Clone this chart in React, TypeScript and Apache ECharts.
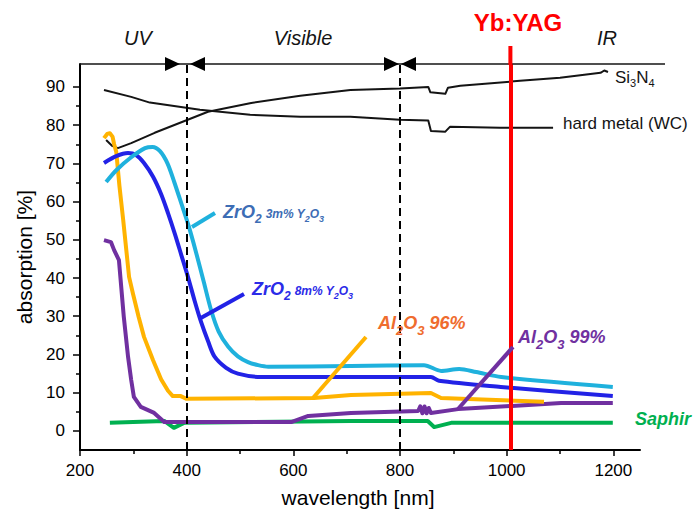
import React, { useEffect, useRef } from "react";
import * as echarts from "echarts";

const FONT = "'Liberation Sans', Arial, Helvetica, sans-serif";

// axis ticks / labels
const xLabelValues = [200, 400, 600, 800, 1000, 1200];
const xMinorValues = [300, 500, 700, 900, 1100];
const yLabelValues = [0, 10, 20, 30, 40, 50, 60, 70, 80, 90];
const yMinorValues = [5, 15, 25, 35, 45, 55, 65, 75, 85];

// region boundaries (UV | Visible | IR) and laser line
const regionBoundaries = [400, 800];
const ybYagWavelength = 1007;

// [wavelength nm, absorption %]
const si3n4: [number, number][] = [
  [249, 76.1], [260, 74.6], [271, 74.0], [296, 75.3], [340, 78.0], [402, 81.4], [440, 83.5],
  [521, 85.8], [613, 87.7], [707, 89.2], [800, 89.6], [853, 90.0], [857, 88.6], [885, 88.2],
  [890, 89.8], [913, 90.3], [1025, 91.6], [1100, 92.4], [1176, 93.7], [1183, 94.3], [1190, 93.9],
];
const hardMetal: [number, number][] = [
  [245, 89.2], [296, 87.4], [331, 85.9], [425, 84.0], [519, 82.7], [613, 82.2], [707, 82.2],
  [800, 81.4], [853, 81.2], [858, 78.5], [885, 78.3], [894, 79.6], [988, 79.3], [1087, 79.3],
];
const zrO2_3m: [number, number][] = [
  [249, 65.1], [268, 68.2], [296, 71.6], [322, 74.0], [336, 74.3], [350, 73.2], [364, 70.0],
  [377, 65.0], [390, 59.5], [404, 53.5], [418, 46.5], [432, 39.0], [446, 31.5], [460, 26.0],
  [478, 22.0], [496, 19.5], [515, 18.0], [534, 17.2], [553, 16.8], [708, 17.0], [845, 17.2],
  [877, 15.7], [911, 16.2], [943, 15.4], [990, 14.1], [1199, 11.5],
];
const zrO2_8m: [number, number][] = [
  [245, 70.1], [268, 71.9], [290, 72.7], [305, 72.2], [320, 70.1], [337, 66.5], [352, 62.0],
  [365, 57.0], [378, 51.5], [390, 46.0], [403, 40.0], [415, 34.0], [427, 28.5], [440, 23.5],
  [452, 19.5], [474, 16.5], [496, 15.0], [539, 14.1], [858, 14.1], [873, 13.1], [989, 11.5],
  [1199, 9.1],
];
const al2o3_96: [number, number][] = [
  [245, 76.6], [251, 77.7], [256, 77.9], [261, 77.0], [264, 75.0], [268, 73.0], [274, 64.0],
  [281, 55.2], [292, 40.3], [299, 36.1], [310, 29.8], [320, 24.6], [337, 18.5], [352, 13.5],
  [365, 10.5], [374, 9.1], [389, 9.1], [399, 8.4], [639, 8.6], [708, 9.4], [858, 9.9],
  [877, 8.6], [1070, 7.6],
];
const al2o3_99: [number, number][] = [
  [245, 49.9], [258, 49.4], [264, 47.3], [273, 44.7], [282, 30.0], [290, 19.5], [296, 13.3],
  [301, 8.9], [314, 6.3], [339, 4.7], [358, 2.3], [596, 2.3], [628, 3.9], [708, 4.7],
  [834, 5.2], [838, 6.4], [842, 4.6], [846, 6.4], [850, 4.6], [854, 6.0], [858, 4.7],
  [909, 5.7], [1102, 7.3], [1199, 7.3],
];
const saphir: [number, number][] = [
  [256, 2.1], [358, 2.6], [376, 0.8], [395, 2.1], [708, 2.6], [852, 2.6], [864, 1.0],
  [896, 2.1], [1199, 2.1],
];

type Seg = [string, number, number, number?];

function buildText(
  ctx: CanvasRenderingContext2D,
  x0: number,
  baseline: number,
  color: string,
  weight: string,
  fstyle: string,
  segs: Seg[]
) {
  const els: any[] = [];
  let x = x0;
  for (const [t, size, dy, gap] of segs) {
    x += gap || 0;
    const font = `${fstyle} ${weight} ${size}px ${FONT}`;
    ctx.font = font;
    const w = ctx.measureText(t).width;
    els.push({
      type: "text",
      x,
      y: baseline + dy - 0.35 * size,
      z: 100,
      silent: true,
      style: {
        text: t,
        fill: color,
        font,
        align: "left",
        verticalAlign: "middle",
      },
    });
    x += w;
  }
  return els;
}

function centerText(x: number, y: number, text: string, font: string, color: string, rotation = 0) {
  return {
    type: "text",
    x,
    y,
    rotation,
    z: 100,
    silent: true,
    style: { text, fill: color, font, align: "center", verticalAlign: "middle" },
  };
}

const colors = {
  black: "#141414",
  zr3: "#1fb1dd",
  zr8: "#2222e6",
  al96: "#ffb300",
  al99: "#7030a0",
  saphir: "#00b050",
  red: "#ff0000",
};

export default function App() {
  const ref = useRef<HTMLDivElement>(null);
  useEffect(() => {
    if (!ref.current) return;
    const chart = echarts.init(ref.current, undefined, { renderer: "svg" });

    const lineSeries = (name: string, data: [number, number][], color: string, width: number, smooth: any = false) => ({
      name,
      type: "line",
      data,
      symbol: "none",
      smooth,
      silent: true,
      lineStyle: { color, width, cap: "butt", join: "round" },
      z: 3,
    });

    const axisFont = { color: "#000", fontSize: 17, fontFamily: FONT };
    const plain = (v: number) => String(v);

    const option: any = {
      animation: false,
      backgroundColor: "#ffffff",
      grid: { left: 80, top: 64, width: 560, height: 386, containLabel: false },
      xAxis: [
        {
          type: "value",
          min: 200,
          max: 1250,
          position: "bottom",
          axisLine: { show: true, onZero: false, lineStyle: { color: "#000", width: 2 } },
          axisTick: { show: true, inside: false, length: 6, customValues: xLabelValues, lineStyle: { color: "#000", width: 1.5 } },
          axisLabel: { show: true, customValues: xLabelValues, margin: 12, formatter: plain, ...axisFont },
          splitLine: { show: false },
        },
        {
          type: "value",
          min: 200,
          max: 1250,
          position: "bottom",
          axisLine: { show: false, onZero: false },
          axisTick: { show: true, inside: false, length: 4, customValues: xMinorValues, lineStyle: { color: "#000", width: 1.5 } },
          axisLabel: { show: false },
          splitLine: { show: false },
        },
      ],
      yAxis: [
        {
          type: "value",
          min: -5,
          max: 96,
          position: "left",
          axisLine: { show: true, onZero: false, lineStyle: { color: "#000", width: 2 } },
          axisTick: { show: true, inside: false, length: 7, customValues: yLabelValues, lineStyle: { color: "#000", width: 1.5 } },
          axisLabel: { show: true, customValues: yLabelValues, margin: 15, formatter: plain, ...axisFont },
          splitLine: { show: false },
        },
        {
          type: "value",
          min: -5,
          max: 96,
          position: "left",
          axisLine: { show: false, onZero: false },
          axisTick: { show: true, inside: false, length: 4, customValues: yMinorValues, lineStyle: { color: "#000", width: 1.5 } },
          axisLabel: { show: false },
          splitLine: { show: false },
        },
      ],
      series: [
        lineSeries("Si3N4", si3n4, colors.black, 2),
        lineSeries("hard metal (WC)", hardMetal, colors.black, 2),
        lineSeries("Saphir", saphir, colors.saphir, 4),
        lineSeries("Al2O3 99%", al2o3_99, colors.al99, 4),
        lineSeries("Al2O3 96%", al2o3_96, colors.al96, 4),
        lineSeries("ZrO2 8m% Y2O3", zrO2_8m, colors.zr8, 4, 0.3),
        lineSeries("ZrO2 3m% Y2O3", zrO2_3m, colors.zr3, 4, 0.3),
        {
          name: "markers",
          type: "line",
          data: [[ybYagWavelength, 0]],
          symbol: "none",
          silent: true,
          z: 10,
          lineStyle: { width: 0 },
          markLine: {
            silent: true,
            symbol: ["none", "none"],
            label: { show: false },
            animation: false,
            data: [
              ...regionBoundaries.map((v) => ({
                xAxis: v,
                lineStyle: { color: "#000", width: 2, type: [8, 5] },
              })),
              { xAxis: ybYagWavelength, lineStyle: { color: colors.red, width: 4, type: "solid" } },
            ],
          },
        },
      ],
    };

    chart.setOption(option);

    const ctx = document.createElement("canvas").getContext("2d")!;
    const redX = chart.convertToPixel({ xAxisIndex: 0 }, ybYagWavelength) as number;
    const topY = 64;

    const graphics: any[] = [
      { type: "line", z: 90, silent: true, shape: { x1: 80, y1: topY, x2: 665, y2: topY }, style: { stroke: colors.black, lineWidth: 1.5 } },
      { type: "polygon", z: 90, silent: true, shape: { points: [[165, 57], [180, 64], [165, 71]] }, style: { fill: "#000" } },
      { type: "polygon", z: 90, silent: true, shape: { points: [[205, 57], [190, 64], [205, 71]] }, style: { fill: "#000" } },
      { type: "polygon", z: 90, silent: true, shape: { points: [[384, 57], [399, 64], [384, 71]] }, style: { fill: "#000" } },
      { type: "polygon", z: 90, silent: true, shape: { points: [[416, 57], [401, 64], [416, 71]] }, style: { fill: "#000" } },
      { type: "line", z: 90, silent: true, shape: { x1: redX, y1: 46, x2: redX, y2: topY + 1 }, style: { stroke: colors.red, lineWidth: 4 } },
      { type: "line", z: 20, silent: true, shape: { x1: 192, y1: 227, x2: 215, y2: 213 }, style: { stroke: colors.zr3, lineWidth: 4 } },
      { type: "line", z: 20, silent: true, shape: { x1: 199, y1: 319, x2: 244, y2: 294 }, style: { stroke: colors.zr8, lineWidth: 4 } },
      { type: "line", z: 20, silent: true, shape: { x1: 313, y1: 398, x2: 366, y2: 337 }, style: { stroke: colors.al96, lineWidth: 4 } },
      { type: "line", z: 20, silent: true, shape: { x1: 458, y1: 409, x2: 513, y2: 347 }, style: { stroke: colors.al99, lineWidth: 4 } },
      centerText(138, 38, "UV", `italic normal 20px ${FONT}`, colors.black),
      centerText(303, 38, "Visible", `italic normal 20px ${FONT}`, colors.black),
      centerText(607, 38, "IR", `italic normal 20px ${FONT}`, colors.black),
      centerText(518, 22, "Yb:YAG", `normal bold 24px ${FONT}`, colors.red),
      centerText(24, 257, "absorption [%]", `normal normal 21px ${FONT}`, "#000", Math.PI / 2),
      centerText(358, 497, "wavelength [nm]", `normal normal 21px ${FONT}`, "#000"),
      ...buildText(ctx, 223, 218, "#3d6db5", "bold", "italic", [
        ["ZrO", 18, 0], ["2", 12, 5], ["3m%", 12, 0, 4], ["Y", 12, 0, 3], ["2", 9, 4], ["O", 12, 0], ["3", 9, 4],
      ]),
      ...buildText(ctx, 252, 295, "#2b2be8", "bold", "italic", [
        ["ZrO", 18, 0], ["2", 12, 5], ["8m%", 12, 0, 4], ["Y", 12, 0, 3], ["2", 9, 4], ["O", 12, 0], ["3", 9, 4],
      ]),
      ...buildText(ctx, 378, 329, "#ef6c2e", "bold", "italic", [
        ["Al", 18, 0], ["2", 13, 6], ["O", 18, 0], ["3", 13, 6], ["96%", 18, 0, 5],
      ]),
      ...buildText(ctx, 518, 343, "#7030a0", "bold", "italic", [
        ["Al", 18, 0], ["2", 13, 6], ["O", 18, 0], ["3", 13, 6], ["99%", 18, 0, 5],
      ]),
      ...buildText(ctx, 635, 425, colors.saphir, "bold", "italic", [["Saphir", 18, 0]]),
      ...buildText(ctx, 615, 83, colors.black, "normal", "normal", [
        ["Si", 17, 0], ["3", 11, 4], ["N", 17, 0], ["4", 11, 4],
      ]),
      ...buildText(ctx, 563, 129, colors.black, "normal", "normal", [["hard metal (WC)", 17, 0]]),
    ];

    chart.setOption({ graphic: { elements: graphics } });

    return () => chart.dispose();
  }, []);

  return (
    <div
      ref={ref}
      style={{ position: "absolute", left: 0, top: 0, width: 699, height: 511, background: "#fff" }}
    />
  );
}
